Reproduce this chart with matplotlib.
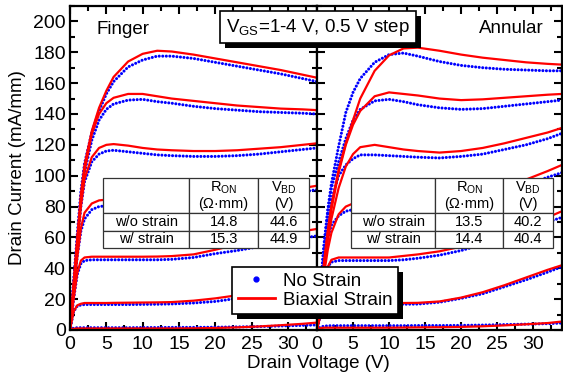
import matplotlib.pyplot as plt
from matplotlib.lines import Line2D
from matplotlib.patches import Rectangle
from matplotlib.ticker import MultipleLocator
from matplotlib.transforms import IdentityTransform

plt.rcParams['font.family'] = ['Liberation Sans', 'DejaVu Sans']
plt.rcParams['mathtext.fontset'] = 'custom'
plt.rcParams['mathtext.rm'] = 'Liberation Sans'
plt.rcParams['mathtext.it'] = 'Liberation Sans:italic'
plt.rcParams['mathtext.bf'] = 'Liberation Sans:bold'

# drain voltage grid (V) shared by all curves
vds = [0, 0.5, 1, 1.5, 2, 3, 4, 5, 6, 8, 10, 12, 14, 17, 20, 23, 26, 29, 32, 34]
vgs = [1, 1.5, 2, 2.5, 3, 3.5, 4]

# Finger, no strain (mA/mm), one list per VGS
fin_ns = [
    [0, 1.2, 1.5, 1.5, 1.5, 1.5, 1.5, 1.5, 1.5, 1.5, 1.6, 1.6, 1.7, 1.7, 1.8, 2.0, 2.2, 2.6, 3.0, 3.3],
    [0, 12, 15.5, 16.2, 16.5, 16.5, 16.5, 16.5, 16.5, 16.5, 16.6, 16.7, 16.9, 17.5, 18.5, 20.5, 22.5, 24.5, 26.5, 28],
    [0, 20, 36, 43, 45, 45.5, 45.5, 45.5, 45.5, 45.5, 45.5, 45.5, 45.8, 47, 49.5, 51.5, 54, 57, 59.5, 61],
    [0, 25, 48, 64, 72, 78, 80, 80.5, 80.5, 80, 79.5, 79, 79, 79.5, 80.5, 82, 84.5, 87, 89.5, 91],
    [0, 28, 55, 80, 96, 109, 114, 116, 116.5, 115.5, 114.5, 113.5, 113, 112.5, 112.5, 113, 114, 115.5, 117, 118],
    [0, 30, 58, 85, 102, 123, 136, 143, 146.5, 149, 149.5, 148, 147, 145, 143.5, 142.5, 141.5, 141, 140.5, 140],
    [0, 32, 62, 90, 108, 128, 142, 153, 161, 170.5, 175, 177.5, 177.5, 176, 173.5, 171, 168.5, 166, 163, 161],
]
# Finger, biaxial strain
fin_bs = [
    [0, 0.8, 1.0, 1.0, 1.0, 1.0, 1.0, 1.0, 1.0, 1.0, 1.0, 1.0, 1.0, 1.1, 1.3, 1.7, 2.3, 3.1, 4.0, 4.8],
    [0, 12, 16, 17, 17.5, 17.5, 17.5, 17.5, 17.6, 17.7, 17.8, 17.9, 18.1, 19, 20.5, 22.5, 24.5, 26.5, 28.5, 30],
    [0, 20, 37, 45, 47, 47.5, 47.5, 47.5, 47.5, 47.5, 47.5, 47.6, 47.9, 49, 52, 55.5, 58.5, 61.5, 64, 65.5],
    [0, 24, 47, 66, 76, 82, 84, 84.5, 84.5, 84, 83.5, 83, 83, 83.5, 84.5, 86, 88, 90, 92, 93.5],
    [0, 27, 54, 80, 98, 112, 118, 120, 120.5, 119.5, 118, 117, 116.5, 116, 116, 116.5, 117.5, 118.5, 120, 121],
    [0, 29, 57, 84, 103, 127, 140, 147, 150.5, 153, 153, 151.5, 150, 148.5, 147, 145.5, 144.5, 143.5, 143, 142.5],
    [0, 31, 60, 88, 107, 129, 144, 155, 164, 174, 179, 181, 180.5, 178.5, 176, 173.5, 171, 168.5, 165.5, 163.5],
]
# Annular, no strain
ann_ns = [
    [0, 2, 2.5, 2.7, 2.8, 2.8, 2.8, 2.8, 2.8, 2.8, 2.8, 2.8, 2.9, 2.9, 3.0, 3.2, 3.5, 3.8, 4.1, 4.5],
    [0, 10, 14.5, 16, 16.3, 16.5, 16.5, 16.5, 16.5, 16.6, 16.6, 16.7, 16.8, 18, 20.5, 23.5, 28, 32.5, 37.5, 41],
    [0, 18, 33, 41, 44, 45, 45, 45, 45, 45, 45, 45.5, 46.5, 48.5, 51.5, 55.5, 60, 65, 70, 73],
    [0, 23, 44, 60, 68, 74, 77, 78, 78.5, 78.5, 78.5, 78.5, 79, 80, 82, 85, 89, 94, 99, 102],
    [0, 26, 50, 70, 84, 100, 107, 111, 113.5, 113.5, 113, 112.5, 112, 111.5, 112.5, 114, 117, 120, 124, 127.5],
    [0, 28, 55, 77, 92, 109, 124, 136, 143, 148.5, 149.5, 148, 146, 144, 143, 143.5, 145, 146.5, 148, 149],
    [0, 30, 57, 78, 95, 119, 141, 154, 163, 173.5, 178.5, 179.5, 177.5, 174, 171.5, 170, 169, 168.5, 168, 168],
]
# Annular, biaxial strain
ann_bs = [
    [0, 1.2, 1.5, 1.5, 1.5, 1.5, 1.5, 1.5, 1.5, 1.5, 1.5, 1.6, 1.7, 1.8, 2.0, 2.4, 3.0, 3.7, 4.5, 5.5],
    [0, 10, 15, 17, 17.5, 17.5, 17.5, 17.5, 17.5, 17.5, 17.5, 17.5, 17.6, 18.5, 21, 24.5, 29, 34, 39, 42],
    [0, 16, 31, 41, 45.5, 47, 47, 47, 47, 47, 47, 48, 49, 51, 54, 58, 62.5, 67.5, 73, 77],
    [0, 19, 37, 52, 63, 75, 80, 82, 82.5, 82, 82, 82, 82, 83, 85, 88, 92, 97.5, 103, 107],
    [0, 21, 40, 58, 72, 92, 106, 114, 118.5, 120, 118.5, 117, 116, 115, 116, 118, 121, 124.5, 128, 131],
    [0, 22, 43, 62, 78, 102, 120, 133, 142, 151.5, 154, 153, 152, 150, 149, 149.5, 150.5, 151.5, 152.5, 153],
    [0, 22, 45, 65, 81, 104, 121, 136, 150, 168, 178, 182.5, 183, 181, 178.5, 176.5, 175, 173.5, 172.5, 172],
]

table_cols = ['', 'R$_{\\mathrm{ON}}$\n(Ω·mm)', 'V$_{\\mathrm{BD}}$\n(V)']
table_rows = ['w/o strain', 'w/ strain']
fin_ron = [14.8, 15.3]
fin_vbd = [44.6, 44.9]
ann_ron = [13.5, 14.4]
ann_vbd = [40.2, 40.4]

W, H = 563, 381
fig = plt.figure(figsize=(W / 100, H / 100), dpi=100)
ax1 = fig.add_axes([70 / W, 51 / H, 247 / W, 324 / H])
ax2 = fig.add_axes([317 / W, 51 / H, 245 / W, 324 / H])


def draw_panel(ax, ns, bs, ron, vbd, tab_x, tab_w):
    for cur in ns:
        ax.plot(vds, cur, color='#0000ff', lw=2.2, ls=(0, (0.01, 1.15)),
                dash_capstyle='round')
    for cur in bs:
        ax.plot(vds, cur, color='#ff0000', lw=1.6)
    ax.set_xlim(0, 34)
    ax.set_ylim(0, 210)
    ax.xaxis.set_major_locator(MultipleLocator(5))
    ax.xaxis.set_minor_locator(MultipleLocator(2.5))
    ax.yaxis.set_major_locator(MultipleLocator(20))
    ax.yaxis.set_minor_locator(MultipleLocator(10))
    ax.tick_params(which='both', direction='in', top=True, right=True,
                   width=1.5, labelsize=14)
    ax.tick_params(axis='x', pad=4)
    ax.tick_params(axis='y', pad=3)
    ax.tick_params(which='major', length=6)
    ax.tick_params(which='minor', length=3.5)
    for s in ax.spines.values():
        s.set_linewidth(1.6)

    cells = [[r, f'{a}', f'{b}'] for r, a, b in zip(table_rows, ron, vbd)]
    tb = ax.table(cellText=cells, colLabels=table_cols, colWidths=[86, 69, 51],
                  cellLoc='center', bbox=[tab_x, 0.253, tab_w, 0.216])
    tb.auto_set_font_size(False)
    tb.set_fontsize(10.5)
    tb.set_zorder(5)
    for (r, c), cell in tb.get_celld().items():
        cell.set_edgecolor('#333333')
        cell.set_linewidth(0.9)
        cell.set_facecolor('white')
        cell.set_height(2.0 if r == 0 else 1.0)
        cell.get_text().set_linespacing(1.05)
    return tb


draw_panel(ax1, fin_ns, fin_bs, fin_ron, fin_vbd, 0.134, 0.834)
draw_panel(ax2, ann_ns, ann_bs, ann_ron, ann_vbd, 0.139, 0.824)
ax2.tick_params(labelleft=False)

ax1.text(0.109, 0.926, 'Finger', transform=ax1.transAxes, fontsize=13.5,
         ha='left', va='center')
ax2.text(0.927, 0.932, 'Annular', transform=ax2.transAxes, fontsize=13.5,
         ha='right', va='center')

fig.text(318 / W, 1 - 363 / H, 'Drain Voltage (V)', ha='center', va='center', fontsize=13.5)
fig.text(18 / W, 1 - 168 / H, 'Drain Current (mA/mm)', ha='center', va='center',
         rotation=90, fontsize=13.5)

box = fig.text(318 / W, 1 - 27 / H, 'V$_{\\mathrm{GS}}$=1-4 V, 0.5 V step', ha='center',
               va='center', fontsize=13.5, zorder=10,
               bbox=dict(boxstyle='square,pad=0.3', fc='white', ec='black', lw=1.2))

handles = [Line2D([], [], ls='none', marker='o', ms=3.5, color='#0000ff'),
           Line2D([], [], color='#ff0000', lw=2)]
leg = fig.legend(handles, ['No Strain', 'Biaxial Strain'], loc='upper left',
                 bbox_to_anchor=(232 / W, 1 - 267 / H), fontsize=13.5, frameon=True,
                 fancybox=False, edgecolor='black', framealpha=1, borderpad=0.3,
                 handlelength=2.0, handletextpad=0.4, labelspacing=0.1,
                 borderaxespad=0)
leg.get_frame().set_linewidth(1.2)
leg.set_zorder(10)

# black drop shadows under the text box and legend
fig.canvas.draw()
rend = fig.canvas.get_renderer()
for bb in [box.get_bbox_patch().get_window_extent(rend),
           leg.get_frame().get_window_extent(rend)]:
    fig.add_artist(Rectangle((bb.x0 + 5, bb.y0 - 5), bb.width, bb.height,
                             transform=IdentityTransform(), fc='black', ec='none',
                             zorder=9))

fig.savefig('out.png', dpi=100)
